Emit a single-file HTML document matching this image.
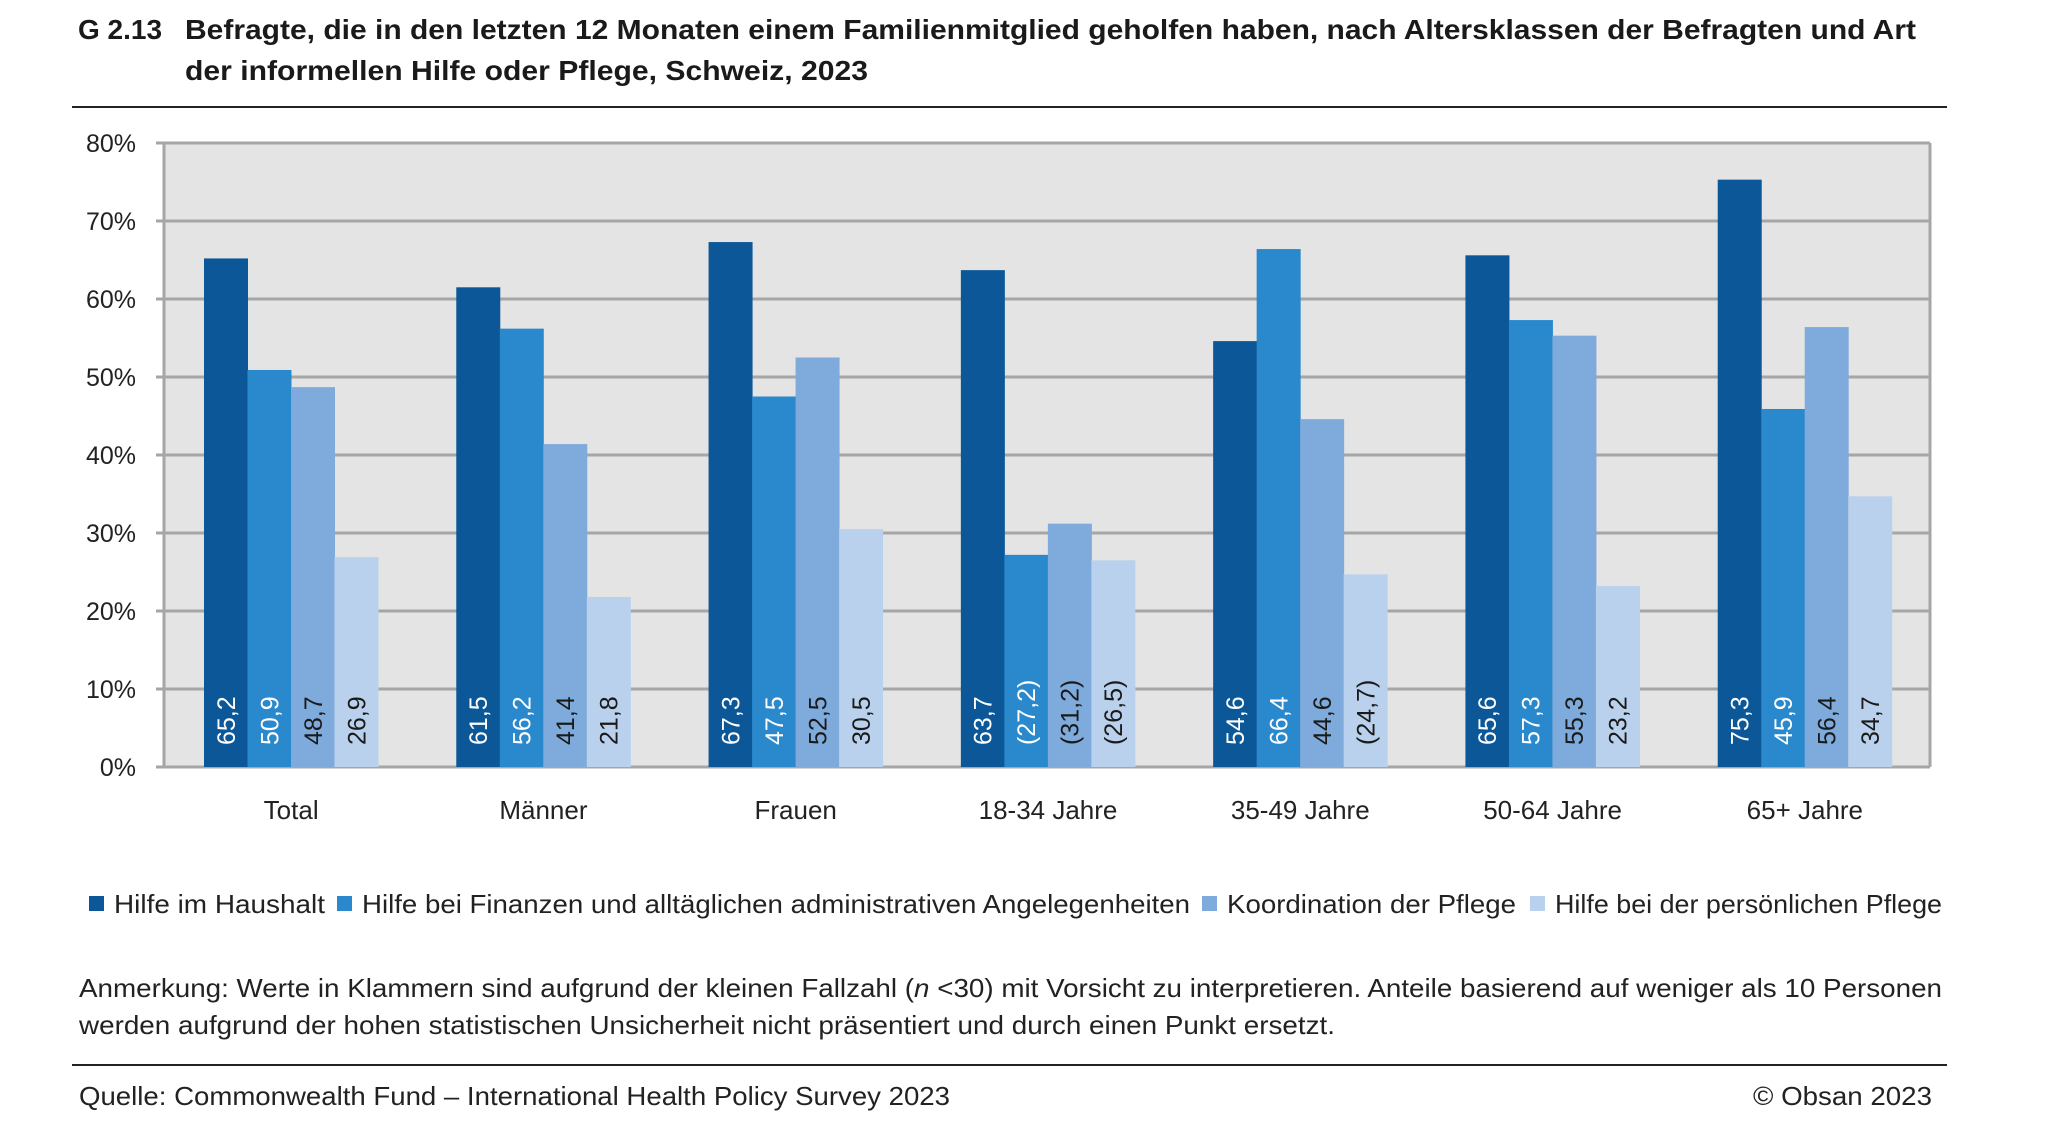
<!DOCTYPE html>
<html><head><meta charset="utf-8"><style>
html,body{margin:0;padding:0;background:#fff;}
svg{display:block;font-family:"Liberation Sans",sans-serif;}
</style></head><body>
<svg id="chart" width="2048" height="1142" viewBox="0 0 2048 1142">
<text x="78" y="39" font-size="28" font-weight="bold" fill="#1a1a1a">G 2.13</text>
<text x="185" y="39" font-size="28" font-weight="bold" fill="#1a1a1a" textLength="1731" lengthAdjust="spacingAndGlyphs">Befragte, die in den letzten 12 Monaten einem Familienmitglied geholfen haben, nach Altersklassen der Befragten und Art</text>
<text x="185" y="80" font-size="28" font-weight="bold" fill="#1a1a1a" textLength="683" lengthAdjust="spacingAndGlyphs">der informellen Hilfe oder Pflege, Schweiz, 2023</text>
<line x1="72" y1="107" x2="1947" y2="107" stroke="#222" stroke-width="2"/>
<rect x="164" y="143" width="1766" height="624" fill="#e4e4e4"/>
<g id="grid"></g>
<g id="bars"></g>
<g id="cats"></g>
<g id="legend"></g>
<text x="79" y="997" font-size="26" fill="#222" textLength="1863" lengthAdjust="spacingAndGlyphs">Anmerkung: Werte in Klammern sind aufgrund der kleinen Fallzahl (<tspan font-style="italic">n</tspan> &lt;30) mit Vorsicht zu interpretieren. Anteile basierend auf weniger als 10 Personen</text>
<text x="79" y="1034" font-size="26" fill="#222" textLength="1256" lengthAdjust="spacingAndGlyphs">werden aufgrund der hohen statistischen Unsicherheit nicht präsentiert und durch einen Punkt ersetzt.</text>
<line x1="72" y1="1065" x2="1947" y2="1065" stroke="#222" stroke-width="2"/>
<text x="79" y="1105" font-size="26" fill="#222" textLength="871" lengthAdjust="spacingAndGlyphs">Quelle: Commonwealth Fund – International Health Policy Survey 2023</text>
<text x="1932" y="1105" font-size="26" fill="#222" text-anchor="end" textLength="179" lengthAdjust="spacingAndGlyphs">© Obsan 2023</text>
</svg>
<script>
const categories = ["Total","Männer","Frauen","18-34 Jahre","35-49 Jahre","50-64 Jahre","65+ Jahre"];
const seriesNames = ["Hilfe im Haushalt","Hilfe bei Finanzen und alltäglichen administrativen Angelegenheiten","Koordination der Pflege","Hilfe bei der persönlichen Pflege"];
const haushalt = [65.2,61.5,67.3,63.7,54.6,65.6,75.3];
const finanzen = [50.9,56.2,47.5,27.2,66.4,57.3,45.9];
const koordination = [48.7,41.4,52.5,31.2,44.6,55.3,56.4];
const pflege = [26.9,21.8,30.5,26.5,24.7,23.2,34.7];
const smallN = [[false,false,false,false,false,false,false],[false,false,false,true,false,false,false],[false,false,false,true,false,false,false],[false,false,false,true,true,false,false]];
const yTicks = [0,10,20,30,40,50,60,70,80];

const NS="http://www.w3.org/2000/svg";
const colors=["#0b5797","#2a88cc","#7eabdb","#b9d1ec"];
const textColors=["#fff","#fff","#1a1a1a","#1a1a1a"];
const series=[haushalt,finanzen,koordination,pflege];
const plotL=164,plotR=1930,plotT=143,plotB=767;
const y=v=>plotB-(v/80)*(plotB-plotT);
const groupW=(plotR-plotL)/categories.length;
const barW=43.5, off=40;
const x=(i,s)=>plotL+i*groupW+off+s*barW;
function mk(tag,attrs,parent){const e=document.createElementNS(NS,tag);for(const k in attrs)e.setAttribute(k,attrs[k]);parent.appendChild(e);return e;}

const grid=document.getElementById('grid');
yTicks.forEach(t=>{
  const l=mk('line',{x1:plotL-8,x2:plotR,y1:y(t),y2:y(t),stroke:'#a6a6a6','stroke-width':3},grid);
  
  
  const tx=mk('text',{x:136,y:y(t)+9,'font-size':25,'text-anchor':'end',fill:'#222'},grid);
  tx.textContent=t+'%';
  
  
});
const ax=mk('line',{x1:plotL,x2:plotL,y1:plotT,y2:plotB,stroke:'#a6a6a6','stroke-width':3},grid);


const rb=mk('line',{x1:plotR,x2:plotR,y1:plotT,y2:plotB,stroke:'#a6a6a6','stroke-width':3},grid);



const bars=document.getElementById('bars');
categories.forEach((c,i)=>{
  series.forEach((arr,s)=>{
    const v=arr[i];
    const r=mk('rect',{x:x(i,s),y:y(v),width:barW+0.5,height:plotB-y(v),fill:colors[s]},bars);
    
    
    const cx=x(i,s)+barW/2+9, by=745;
    const lbl=smallN[s][i]?'('+v.toFixed(1).replace('.',',')+')':v.toFixed(1).replace('.',',');
    const t=mk('text',{x:cx,y:by,'font-size':25,fill:textColors[s],transform:`rotate(-90 ${cx} ${by})`},bars);
    t.textContent=lbl;
    
    
  });
  const ct=mk('text',{x:plotL+i*groupW+groupW/2+1,y:819,'font-size':26,'text-anchor':'middle',fill:'#222'},document.getElementById('cats'));
  ct.textContent=c;
  
  
});

const leg=document.getElementById('legend');
const legX=[89,337,1202,1530], legEnd=[325,1190,1516,1942];
seriesNames.forEach((n,s)=>{
  const r=mk('rect',{x:legX[s],y:896,width:15,height:15,fill:colors[s]},leg);
  
  
  const t=mk('text',{x:legX[s]+25,y:913,'font-size':26,fill:'#222',textLength:legEnd[s]-legX[s]-25,lengthAdjust:'spacingAndGlyphs'},leg);
  t.textContent=n;
  
  
});
</script>
</body></html>
